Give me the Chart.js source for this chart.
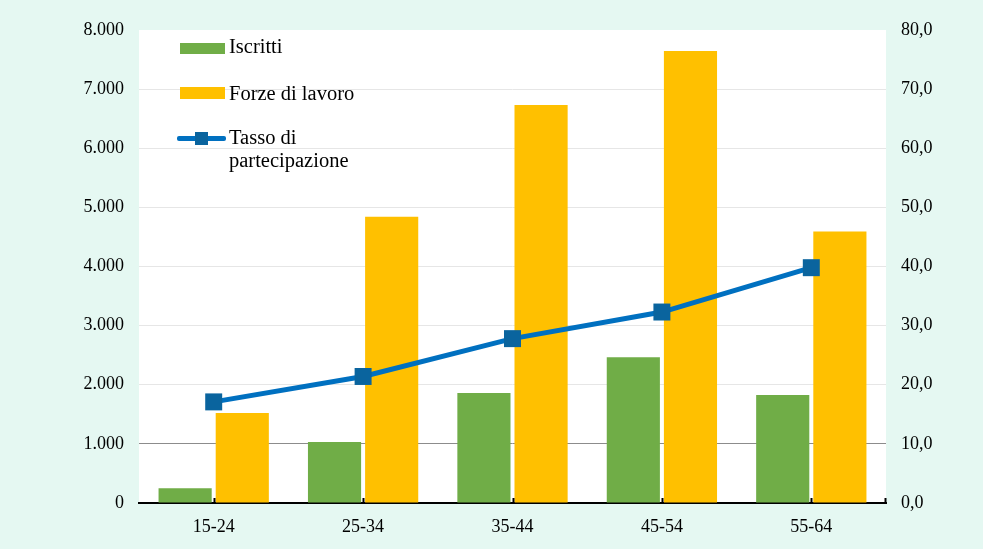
<!DOCTYPE html>
<html lang="it">
<head>
<meta charset="utf-8">
<script src="https://cdn.jsdelivr.net/npm/chart.js@4/dist/chart.umd.min.js"></script>
<style>
  html, body { margin: 0; padding: 0; background: #e5f8f2; }
  #wrap { position: relative; width: 983px; height: 549px; }
  #legend { position: absolute; left: 0; top: 0; font-family: 'Liberation Serif', serif; font-size: 20.5px; color: #000; }
  .item { position: absolute; white-space: nowrap; line-height: 23px; }
  .sw { position: absolute; }
</style>
</head>
<body>
<div id="wrap">
  <canvas id="chart" width="983" height="549"></canvas>
  <div id="legend"></div>
</div>
<script>
// categorie (classi di età)
const categories = ['15-24', '25-34', '35-44', '45-54', '55-64'];
// migliaia
const iscritti = [250, 1030, 1860, 2465, 1828];
const forzeLavoro = [1522, 4842, 6730, 7645, 4590];
// percentuale
const tassoPartecipazione = [17.1, 21.4, 27.8, 32.3, 39.8];

const leftTicks = [0, 1000, 2000, 3000, 4000, 5000, 6000, 7000, 8000];

const GREEN = '#70ad47';
const ORANGE = '#ffc000';
const BLUE = '#0070c0';
const MARKER = '#0a649e';
const FONT = 'Liberation Serif';

const fmtThousands = v => String(v).replace(/\B(?=(\d{3})+(?!\d))/g, '.');
const fmtPct = v => v.toFixed(1).replace('.', ',');

// sfondo bianco dell'area del grafico + tacche sull'asse x
const plotArea = {
  id: 'plotArea',
  beforeDraw(chart) {
    const { ctx, chartArea: a } = chart;
    ctx.save();
    ctx.fillStyle = '#ffffff';
    ctx.fillRect(a.left, a.top, a.right - a.left, a.bottom - a.top);
    ctx.restore();
  },
  afterDraw(chart) {
    const { ctx, chartArea: a } = chart;
    const x = chart.scales.x;
    ctx.save();
    ctx.strokeStyle = '#000';
    ctx.lineWidth = 2;
    const xs = categories.map((c, i) => x.getPixelForTick(i)).concat([a.right - 1]);
    for (const px of xs) {
      ctx.beginPath();
      ctx.moveTo(Math.round(px) + 0.5, a.bottom);
      ctx.lineTo(Math.round(px) + 0.5, a.bottom - 5);
      ctx.stroke();
    }
    ctx.restore();
  },
};

const chart = new Chart(document.getElementById('chart'), {
  data: {
    labels: categories,
    datasets: [
      {
        type: 'line',
        label: 'Tasso di\npartecipazione',
        data: tassoPartecipazione,
        yAxisID: 'y1',
        borderColor: BLUE,
        borderWidth: 5,
        pointStyle: 'rect',
        pointRadius: 12,
        pointBackgroundColor: MARKER,
        pointBorderColor: MARKER,
        pointBorderWidth: 0,
        tension: 0,
        order: 0,
      },
      {
        type: 'bar',
        label: 'Iscritti',
        data: iscritti,
        yAxisID: 'y',
        backgroundColor: GREEN,
        barPercentage: 0.93,
        categoryPercentage: 0.765,
        order: 1,
      },
      {
        type: 'bar',
        label: 'Forze di lavoro',
        data: forzeLavoro,
        yAxisID: 'y',
        backgroundColor: ORANGE,
        barPercentage: 0.93,
        categoryPercentage: 0.765,
        order: 1,
      },
    ],
  },
  options: {
    responsive: false,
    animation: false,
    layout: { padding: { top: 30, left: 0, right: 0, bottom: 0 } },
    plugins: {
      legend: { display: false },
      tooltip: { enabled: false },
    },
    scales: {
      x: {
        grid: { display: false, drawTicks: false },
        border: { display: true, color: '#000', width: 2 },
        ticks: { color: '#000', padding: 13, font: { family: FONT, size: 18 } },
        afterFit: s => { s.height = 46; },
      },
      y: {
        position: 'left',
        min: 0,
        max: 8000,
        afterBuildTicks: s => { s.ticks = leftTicks.map(v => ({ value: v })); },
        grid: {
          drawTicks: false,
          color: c => {
            const v = c.tick && c.tick.value;
            if (v === 0 || v === 8000) return 'rgba(0,0,0,0)';
            return v === 1000 ? '#8c8c8c' : '#e6e6e6';
          },
          lineWidth: 1,
        },
        border: { display: false },
        ticks: {
          color: '#000',
          padding: 15,
          font: { family: FONT, size: 18 },
          callback: v => fmtThousands(v),
        },
        afterFit: s => { s.width = 139; },
      },
      y1: {
        position: 'right',
        min: 0,
        max: 80,
        grid: { display: false, drawTicks: false },
        border: { display: false },
        ticks: {
          stepSize: 10,
          color: '#000',
          padding: 15,
          font: { family: FONT, size: 18 },
          callback: v => fmtPct(v),
        },
        afterFit: s => { s.width = 97; },
      },
    },
  },
  plugins: [plotArea],
});

// legenda HTML dentro l'area del grafico
const legend = document.getElementById('legend');
const ds = chart.data.datasets;
const legendRows = [
  { d: ds[1], top: 35, swTop: 43, swH: 11, kind: 'box' },
  { d: ds[2], top: 82, swTop: 87, swH: 12, kind: 'box' },
  { d: ds[0], top: 126, swTop: 136, swH: 5, kind: 'line' },
];
for (const r of legendRows) {
  if (r.kind === 'box') {
    const sw = document.createElement('div');
    sw.className = 'sw';
    Object.assign(sw.style, { left: '180px', top: r.swTop + 'px', width: '45px', height: r.swH + 'px', background: r.d.backgroundColor });
    legend.appendChild(sw);
  } else {
    const ln = document.createElement('div');
    ln.className = 'sw';
    Object.assign(ln.style, { left: '177px', top: r.swTop + 'px', width: '49px', height: r.swH + 'px', background: r.d.borderColor, borderRadius: '2px' });
    legend.appendChild(ln);
    const mk = document.createElement('div');
    mk.className = 'sw';
    Object.assign(mk.style, { left: '195px', top: (r.swTop - 4) + 'px', width: '13px', height: '13px', background: r.d.pointBackgroundColor });
    legend.appendChild(mk);
  }
  const tx = document.createElement('div');
  tx.className = 'item';
  tx.style.left = '229px';
  tx.style.top = r.top + 'px';
  tx.innerHTML = r.d.label.split('\n').join('<br>');
  legend.appendChild(tx);
}
</script>
</body>
</html>
